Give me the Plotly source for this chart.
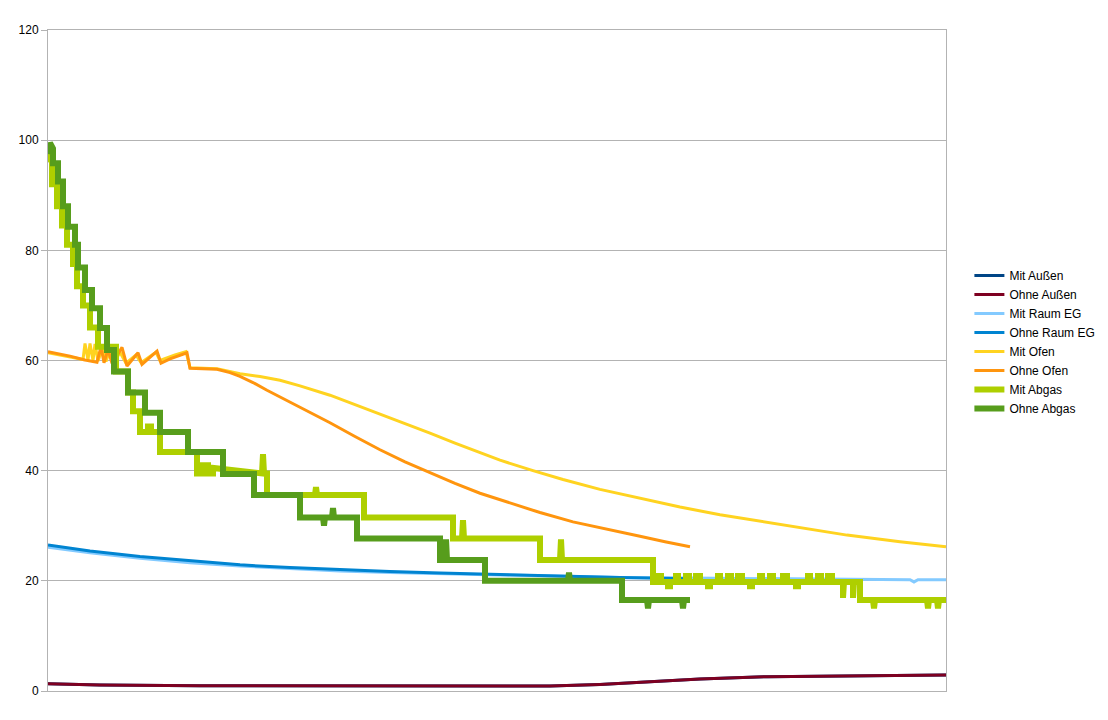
import plotly.graph_objects as go

# Zeitachse: Messpunkte (ohne Beschriftung), Werte in Grad C
t_max = 898

# Außen
aussen_t = [0, 52, 152, 252, 352, 452, 502, 552, 602, 652, 719, 802, 898]
aussen_v = [1.3, 1.1, 0.95, 0.9, 0.85, 0.8, 0.9, 1.2, 1.7, 2.2, 2.6, 2.8, 2.9]

# Raum EG
mit_raum_t = [0, 42, 92, 142, 192, 242, 292, 342, 392, 452, 512, 572, 642, 702, 762, 822, 862, 866, 870, 898]
mit_raum_v = [26.1, 25.1, 24.1, 23.3, 22.7, 22.2, 21.8, 21.5, 21.3, 21.0, 20.8, 20.6, 20.5, 20.4, 20.3, 20.25, 20.2, 19.8, 20.2, 20.2]
ohne_raum_t = [0, 42, 92, 142, 192, 242, 292, 342, 392, 452, 512, 572, 642]
ohne_raum_v = [26.5, 25.4, 24.4, 23.6, 22.9, 22.4, 22.0, 21.7, 21.4, 21.1, 20.8, 20.6, 20.4]

# Ofen
mit_ofen_t = [0, 22, 35, 37, 40, 42, 45, 47, 50, 55, 58, 62, 66, 72, 78, 88, 93, 108, 112, 127,
              138, 142, 169, 192, 212, 232, 252, 282, 307, 332, 357, 382, 407, 432, 452, 485, 515, 552, 592,
              632, 672, 732, 799, 852, 898]
mit_ofen_v = [61.4, 60.6, 60.2, 63.1, 60.1, 63.1, 60.0, 63.0, 59.9, 62.5, 59.8, 62.0, 59.6, 61.5, 59.5, 61.0, 59.6, 61.5, 60.0, 61.0,
              61.6, 58.7, 58.5, 57.6, 57.1, 56.4, 55.4, 53.7, 52.0, 50.2, 48.5, 46.8, 45.0, 43.2, 41.9, 40.0, 38.4, 36.6, 35.0,
              33.4, 32.0, 30.2, 28.3, 27.1, 26.2]
ohne_ofen_t = [0, 22, 37, 49, 53, 56, 60, 64, 68, 74, 79, 90, 94, 109, 113, 122, 139, 142, 169, 182, 192,
               205, 219, 235, 252, 267, 282, 307, 332, 357, 382, 407, 432, 459, 492, 525, 557, 592, 617, 642]
ohne_ofen_v = [61.6, 60.8, 60.1, 59.7, 62.5, 59.6, 62.0, 59.5, 60.5, 62.4, 59.0, 61.4, 59.3, 61.7, 59.5, 60.3, 61.4, 58.6, 58.4, 57.8, 57.1,
               56.0, 54.6, 53.1, 51.6, 50.1, 48.7, 46.2, 43.8, 41.6, 39.6, 37.7, 35.9, 34.3, 32.4, 30.7, 29.4, 28.1, 27.1, 26.2]

# Abgas (Stufen mit Flackern)
mit_abgas_t = [0, 2, 4, 4, 9, 9, 14, 14, 19, 19, 25, 25, 29, 29, 35, 35, 42, 42, 50, 50, 68, 68, 80, 80, 85, 85, 92,
               92, 100, 100, 103, 103, 112, 112, 149, 149, 155, 155, 160, 160, 165, 165, 214, 215, 216, 219, 219,
               267, 268, 269, 316, 316, 405, 405, 414, 415, 416, 492, 492, 512, 513, 514, 605, 605,
               610, 610, 613, 613, 620, 620, 622, 622, 628, 628, 630, 630, 638, 638, 641, 641, 648, 648, 652, 652,
               660, 660, 662, 662, 670, 670, 672, 672, 680, 680, 683, 683, 690, 690, 694, 694, 702, 702, 704, 704,
               712, 712, 714, 714, 722, 722, 725, 725, 735, 735, 739, 739, 748, 748, 750, 750, 760, 760, 762, 762,
               770, 770, 773, 773, 780, 780, 784, 784, 795, 795, 796, 805, 805, 806,
               812, 812, 825, 826, 827, 879, 880, 881, 889, 890, 891, 898]
mit_abgas_v = [96.0, 97.5, 96.0, 92.0, 92.0, 88.0, 88.0, 84.5, 84.5, 81.0, 81.0, 77.5, 77.5, 73.5, 73.5, 70.0, 70.0, 66.0, 66.0, 62.5, 62.5, 58.0, 58.0, 54.2, 54.2, 50.8, 50.8,
               47.0, 47.0, 48.0, 48.0, 47.0, 47.0, 43.4, 43.4, 39.5, 39.5, 41.0, 41.0, 39.5, 39.5, 40.5, 39.5, 43.0, 39.5, 39.5, 35.6,
               35.6, 37.0, 35.6, 35.6, 31.5, 31.5, 27.7, 27.7, 31.0, 27.7, 27.7, 23.8, 23.8, 27.5, 23.8, 23.8, 19.8,
               19.8, 20.9, 20.9, 19.8, 19.8, 19.0, 19.0, 19.8, 19.8, 20.9, 20.9, 19.8, 19.8, 20.9, 20.9, 19.8, 19.8, 20.9, 20.9, 19.8,
               19.8, 19.0, 19.0, 19.8, 19.8, 20.9, 20.9, 19.8, 19.8, 20.9, 20.9, 19.8, 19.8, 20.9, 20.9, 19.8, 19.8, 19.0, 19.0, 19.8,
               19.8, 20.9, 20.9, 19.8, 19.8, 20.9, 20.9, 19.8, 19.8, 20.9, 20.9, 19.8, 19.8, 19.0, 19.0, 19.8, 19.8, 20.9, 20.9, 19.8,
               19.8, 20.9, 20.9, 19.8, 19.8, 20.9, 20.9, 19.8, 19.8, 16.9, 19.8, 19.8, 16.9, 19.8,
               19.8, 16.5, 16.5, 15.0, 16.5, 16.5, 15.0, 16.5, 16.5, 15.0, 16.5, 16.5]
ohne_abgas_t = [0, 2, 5, 5, 10, 10, 15, 15, 20, 20, 27, 27, 30, 30, 37, 37, 44, 44, 52, 52, 59, 59, 66, 66, 80, 80, 97,
                97, 112, 112, 140, 140, 175, 175, 206, 206, 252, 252, 275, 276, 277, 284, 285, 286, 309, 309,
                392, 392, 397, 398, 399, 437, 437, 520, 521, 522, 574, 574, 599, 600, 601, 634, 635, 636, 642]
ohne_abgas_v = [97.5, 99.5, 98.5, 95.8, 95.8, 92.5, 92.5, 88.0, 88.0, 84.3, 84.3, 81.0, 81.0, 76.9, 76.9, 72.8, 72.8, 69.5, 69.5, 65.9, 65.9, 61.9, 61.9, 58.0, 58.0, 54.2, 54.2,
                50.5, 50.5, 47.0, 47.0, 43.4, 43.4, 39.4, 39.4, 35.6, 35.6, 31.5, 31.5, 30.0, 31.5, 31.5, 33.2, 31.5, 31.5, 27.7,
                27.7, 23.8, 23.8, 27.5, 23.8, 23.8, 20.0, 20.0, 21.5, 20.0, 20.0, 16.5, 16.5, 15.0, 16.5, 16.5, 15.0, 16.5, 16.5]

series = [
    ("Mit Außen", aussen_t, aussen_v, "#004586", 3),
    ("Ohne Außen", aussen_t, aussen_v, "#7e0021", 3),
    ("Mit Raum EG", mit_raum_t, mit_raum_v, "#83caff", 3),
    ("Ohne Raum EG", ohne_raum_t, ohne_raum_v, "#0084d1", 3),
    ("Mit Ofen", mit_ofen_t, mit_ofen_v, "#ffd320", 3),
    ("Ohne Ofen", ohne_ofen_t, ohne_ofen_v, "#ff950e", 3),
    ("Mit Abgas", mit_abgas_t, mit_abgas_v, "#aecf00", 6),
    ("Ohne Abgas", ohne_abgas_t, ohne_abgas_v, "#579d1c", 6),
]

fig = go.Figure()
for name, t, v, color, w in series:
    fig.add_trace(go.Scatter(x=t, y=v, mode="lines", name=name,
                             line=dict(color=color, width=w)))

# page body has an 8px margin, so the figure is a bit smaller than the window
fig.update_layout(
    width=1100, height=712,
    margin=dict(l=40, r=162, t=22, b=29, autoexpand=False),
    paper_bgcolor="white", plot_bgcolor="white",
    font=dict(family="Liberation Sans, Arial, sans-serif", size=12, color="black"),
    showlegend=True,
    legend=dict(x=0.874, y=0.528, xref="container", xanchor="left", yanchor="middle",
                bgcolor="rgba(0,0,0,0)", font=dict(size=12), tracegroupgap=0,
                itemwidth=30),
)
fig.update_xaxes(range=[0, t_max], showticklabels=False, showgrid=False, zeroline=False,
                 showline=True, mirror=True, linecolor="#b3b3b3", linewidth=1, ticks="")
fig.update_yaxes(range=[0, 120], dtick=20, showgrid=True, gridcolor="#b3b3b3", zeroline=False,
                 showline=True, mirror=True, linecolor="#b3b3b3", linewidth=1,
                 ticks="outside", ticklen=6, tickcolor="#b3b3b3")

fig.write_html("out.html")
